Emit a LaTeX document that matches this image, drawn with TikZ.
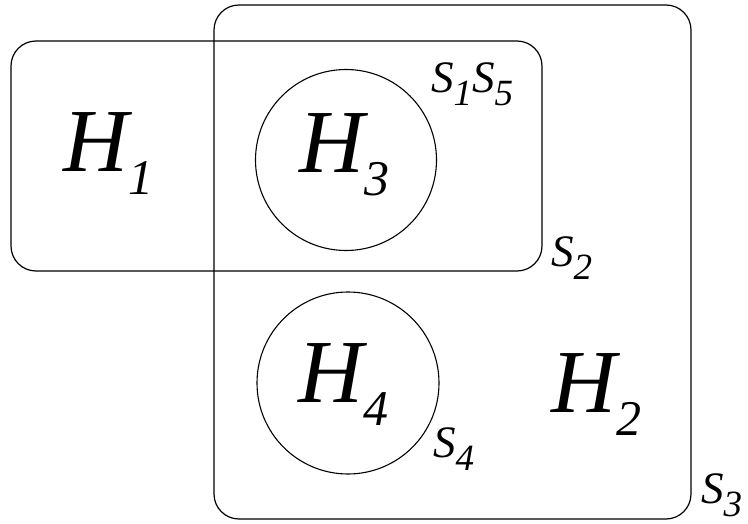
\documentclass[tikz,border=0pt]{standalone}
\usepackage{fontspec}
\setmainfont{Liberation Serif}
\usetikzlibrary{positioning}

\newcommand{\hname}[1]{{\fontsize{90}{90}\selectfont\itshape H}\raisebox{-23pt}{\fontsize{50}{50}\selectfont\itshape #1}}
\newcommand{\sname}[1]{{\fontsize{45}{45}\selectfont\itshape S}\raisebox{-13pt}{\fontsize{37}{37}\selectfont\itshape #1}}

\begin{document}
\begin{tikzpicture}[x=1pt,y=-1pt,
  setbox/.style={draw,rectangle,rounded corners=25pt,line width=1.2pt,inner sep=0pt},
  blob/.style={draw,circle,line width=1.1pt,inner sep=0pt},
  lab/.style={anchor=base west,inner sep=0pt}]
\useasboundingbox (0,0) rectangle (748,524);
\node[setbox,minimum width=477pt,minimum height=514pt] (s3) at (452.5,262) {};
\node[setbox,minimum width=531pt,minimum height=230pt] (s2) at (276.5,156) {};
\node[blob,minimum size=181pt] (h3c) at (346,160) {};
\node[blob,minimum size=182pt] (h4c) at (348,383) {};
% set names
\node[lab] (h1) at (63,172) {\hname{1}};
\node[lab] (h3) at (299,173) {\hname{3}};
\node[lab] (h4) at (298,402) {\hname{4}};
\node[lab] (h2) at (551,412) {\hname{2}};
\node[lab] (s15) at (431,93) {\sname{1}\sname{5}};
\node[lab] (s2l) at (551,267) {\sname{2}};
\node[lab] (s4) at (433,457) {\sname{4}};
\node[lab] (s3l) at (701,503) {\sname{3}};
\end{tikzpicture}
\end{document}
